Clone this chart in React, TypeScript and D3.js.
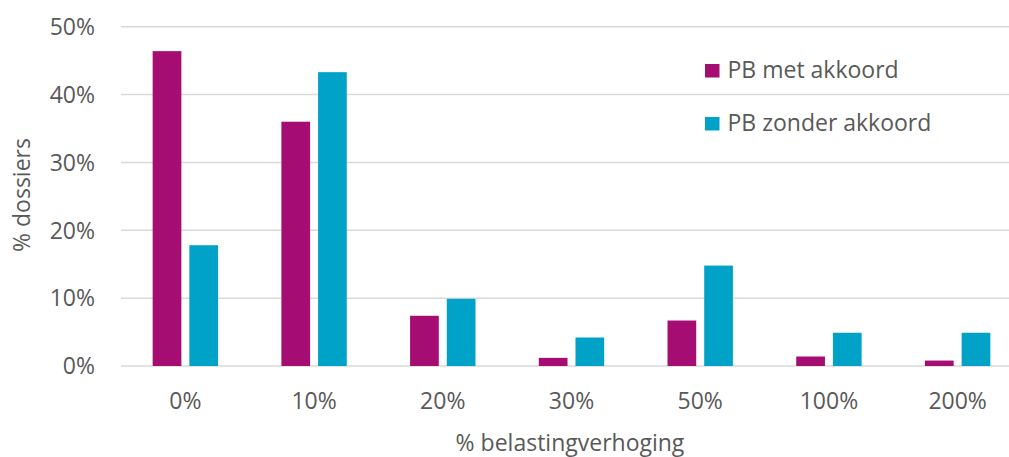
import React from "react";
import * as d3 from "d3";

const categories = ["0%", "10%", "20%", "30%", "50%", "100%", "200%"];
const metAkkoord = [46.4, 36.0, 7.4, 1.2, 6.7, 1.4, 0.8];
const zonderAkkoord = [17.8, 43.3, 9.9, 4.2, 14.8, 4.9, 4.9];
const yTicks = [0, 10, 20, 30, 40, 50];
const seriesNames = ["PB met akkoord", "PB zonder akkoord"];
const seriesColors = ["#A50D72", "#00A3C7"];

const W = 1009;
const H = 457;
const FONT = "'Open Sans', sans-serif";
const TEXT = "#595959";

export default function App() {
  const left = 121;
  const right = 1022;
  const top = 26.7;
  const bottom = 366;

  const x = d3.scaleBand<string>().domain(categories).range([left, right]).paddingInner(0).paddingOuter(0);
  const y = d3.scaleLinear().domain([0, 50]).range([bottom, top]);
  const bw = x.bandwidth();
  const barW = bw * 0.223;
  const gap = bw * 0.062;

  const series = [metAkkoord, zonderAkkoord];

  return (
    <svg width={W} height={H} style={{ position: "absolute", left: 0, top: 0, background: "#fff" }}>
      {yTicks.map((t) => (
        <g key={t}>
          <line x1={left} x2={W} y1={y(t)} y2={y(t)} stroke="#D9D9D9" strokeWidth={1.5} />
          <text x={95} y={y(t)} dy="0.36em" textAnchor="end" fontFamily={FONT} fontSize={23} fill={TEXT}>
            {t}%
          </text>
        </g>
      ))}
      {categories.map((c, i) => {
        const cx = (x(c) as number) + bw / 2;
        return (
          <g key={c}>
            {series.map((s, k) => {
              const bx = k === 0 ? cx - gap / 2 - barW : cx + gap / 2;
              return (
                <rect
                  key={k}
                  x={bx}
                  y={y(s[i])}
                  width={barW}
                  height={y(0) - y(s[i])}
                  fill={seriesColors[k]}
                />
              );
            })}
            <text x={cx} y={408.5} textAnchor="middle" fontFamily={FONT} fontSize={23} fill={TEXT}>
              {c}
            </text>
          </g>
        );
      })}
      <text
        transform={`translate(30,195) rotate(-90)`}
        textAnchor="middle"
        fontFamily={FONT}
        fontSize={23}
        fill={TEXT}
      >
        % dossiers
      </text>
      <text x={570} y={450.5} textAnchor="middle" fontFamily={FONT} fontSize={23} fill={TEXT}>
        % belastingverhoging
      </text>
      {seriesNames.map((n, k) => (
        <g key={n} transform={`translate(705,${64 + k * 53})`}>
          <rect x={0} y={0} width={14.5} height={13.5} fill={seriesColors[k]} />
          <text x={22.5} y={14} fontFamily={FONT} fontSize={23} fill={TEXT}>
            {n}
          </text>
        </g>
      ))}
    </svg>
  );
}
